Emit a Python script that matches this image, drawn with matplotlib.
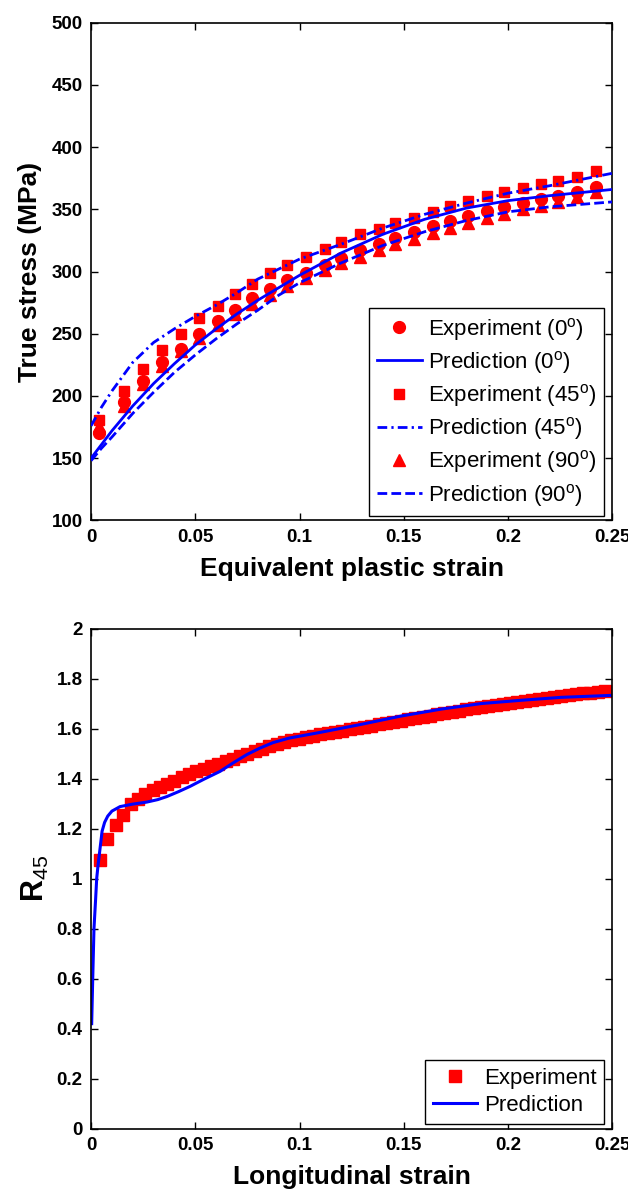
import matplotlib
matplotlib.use("Agg")
import matplotlib.pyplot as plt
from matplotlib.ticker import FuncFormatter

plt.rcParams['font.family'] = ['Liberation Sans', 'DejaVu Sans']
plt.rcParams['mathtext.fontset'] = 'custom'
plt.rcParams['mathtext.rm'] = 'Liberation Sans'
plt.rcParams['mathtext.bf'] = 'Liberation Sans:bold'

RED = '#ff0000'
BLUE = '#0000ff'

# ---- top chart: true stress vs equivalent plastic strain ----
exp_strain = [0.004, 0.016, 0.025, 0.034, 0.043, 0.052, 0.061, 0.069, 0.077, 0.086,
              0.094, 0.103, 0.112, 0.120, 0.129, 0.138, 0.146, 0.155, 0.164, 0.172,
              0.181, 0.190, 0.198, 0.207, 0.216, 0.224, 0.233, 0.242]
exp_0 = [170, 195, 212, 227, 238, 250, 260, 269, 279, 286, 293, 299, 305, 311, 317,
         322, 327, 332, 337, 341, 345, 349, 352, 355, 358, 361, 364, 368]
exp_45 = [181, 204, 222, 237, 250, 263, 272, 282, 290, 299, 305, 312, 318, 324, 330,
          334, 339, 343, 348, 353, 357, 361, 364, 367, 370, 373, 376, 381]
exp_90 = [176, 192, 210, 224, 236, 247, 257, 266, 274, 281, 288, 295, 301, 307, 312,
          317, 322, 326, 331, 335, 339, 343, 346, 350, 353, 356, 360, 364]

pred_strain = [0, 0.005, 0.01, 0.02, 0.03, 0.04, 0.05, 0.06, 0.07, 0.08, 0.09, 0.1,
               0.12, 0.14, 0.16, 0.18, 0.2, 0.22, 0.25]
pred_0 = [150, 161, 172, 192, 210, 226, 241, 254, 266, 277, 287, 297, 315, 330, 342,
          351, 357, 361, 366]
pred_45 = [176, 191, 204, 227, 243, 254, 264, 273, 283, 294, 302, 310, 322, 335, 346,
           355, 363, 369, 379]
pred_90 = [148, 158, 167, 186, 203, 219, 233, 246, 258, 269, 281, 291, 307, 321, 332,
           341, 348, 352, 356]

# ---- bottom chart: R45 vs longitudinal strain ----
r_exp_strain = [0.0043, 0.0078, 0.0118, 0.0155, 0.0190, 0.0225, 0.0260, 0.0295, 0.0330,
                0.0365, 0.0400, 0.0435, 0.0470, 0.0505, 0.0540, 0.0575, 0.0610, 0.0645,
                0.0680, 0.0715, 0.0750, 0.0785, 0.0820, 0.0855, 0.0890, 0.0925, 0.0960,
                0.0995, 0.1030, 0.1065, 0.1100, 0.1135, 0.1170, 0.1205, 0.1240, 0.1275,
                0.1310, 0.1345, 0.1380, 0.1415, 0.1450, 0.1485, 0.1520, 0.1555, 0.1590,
                0.1625, 0.1660, 0.1695, 0.1730, 0.1765, 0.1800, 0.1835, 0.1870, 0.1905,
                0.1940, 0.1975, 0.2010, 0.2045, 0.2080, 0.2115, 0.2150, 0.2185, 0.2220,
                0.2255, 0.2290, 0.2325, 0.2360, 0.2395, 0.2430, 0.2465]
r_exp = [1.075, 1.160, 1.215, 1.255, 1.300, 1.320, 1.340, 1.355, 1.368, 1.380, 1.392,
         1.405, 1.418, 1.430, 1.440, 1.450, 1.460, 1.470, 1.480, 1.490, 1.500, 1.510,
         1.520, 1.530, 1.538, 1.546, 1.553, 1.560, 1.566, 1.572, 1.577, 1.582, 1.587,
         1.592, 1.597, 1.602, 1.607, 1.612, 1.617, 1.622, 1.627, 1.632, 1.637, 1.642,
         1.647, 1.652, 1.657, 1.662, 1.667, 1.672, 1.677, 1.681, 1.685, 1.689, 1.693,
         1.697, 1.701, 1.705, 1.709, 1.713, 1.717, 1.721, 1.725, 1.729, 1.733, 1.737,
         1.741, 1.744, 1.748, 1.751]

r_pred_strain = [0.0003, 0.0008, 0.0014, 0.0022, 0.0027, 0.0033, 0.0043, 0.0053, 0.0065,
                 0.0080, 0.0100, 0.0139, 0.0200, 0.0267, 0.0320, 0.0363, 0.0420, 0.0475,
                 0.0540, 0.0619, 0.0680, 0.0747, 0.0810, 0.0873, 0.0950, 0.1100, 0.1290,
                 0.1486, 0.1680, 0.1870, 0.2060, 0.2255, 0.2500]
r_pred = [0.42, 0.60, 0.80, 0.92, 1.00, 1.05, 1.12, 1.19, 1.225, 1.25, 1.27, 1.288,
          1.298, 1.306, 1.316, 1.328, 1.348, 1.369, 1.397, 1.429, 1.462, 1.496, 1.522,
          1.544, 1.562, 1.585, 1.616, 1.650, 1.678, 1.700, 1.713, 1.725, 1.733]

fig = plt.figure(figsize=(6.28, 11.95), dpi=100)
ax1 = fig.add_axes([0.145, 0.5645, 0.83, 0.4165])
ax2 = fig.add_axes([0.145, 0.0555, 0.83, 0.4185])

fmt = FuncFormatter(lambda v, p: '%g' % round(v, 4))


def style(ax):
    for s in ax.spines.values():
        s.set_linewidth(1.2)
    ax.tick_params(direction='in', top=True, right=True, length=5, width=1,
                   pad=6, labelsize=13.5)
    for lab in ax.get_xticklabels() + ax.get_yticklabels():
        lab.set_fontweight('bold')
    ax.xaxis.set_major_formatter(fmt)
    ax.yaxis.set_major_formatter(fmt)


def legend(ax, y0):
    leg = ax.legend(loc='lower right', bbox_to_anchor=(0.985, y0), borderaxespad=0,
                    fontsize=16, frameon=True, fancybox=False, edgecolor='black',
                    framealpha=1, handlelength=2.0, handletextpad=0.3,
                    labelspacing=0.28, borderpad=0.35)
    leg.get_frame().set_linewidth(1.0)
    return leg


ms = 8.5
ax1.plot(exp_strain, exp_0, 'o', color=RED, ms=ms, label=r'Experiment (0$^\mathrm{o}$)')
ax1.plot(pred_strain, pred_0, '-', color=BLUE, lw=2, label=r'Prediction (0$^\mathrm{o}$)', zorder=4)
ax1.plot(exp_strain, exp_45, 's', color=RED, ms=7.5, label=r'Experiment (45$^\mathrm{o}$)')
ax1.plot(pred_strain, pred_45, color=BLUE, lw=2, linestyle=(0, (3.5, 1.5, 0.8, 1.5)),
         label=r'Prediction (45$^\mathrm{o}$)', zorder=4)
ax1.plot(exp_strain, exp_90, '^', color=RED, ms=ms, label=r'Experiment (90$^\mathrm{o}$)')
ax1.plot(pred_strain, pred_90, color=BLUE, lw=2, linestyle=(0, (3.5, 1.5)),
         label=r'Prediction (90$^\mathrm{o}$)', zorder=4)

ax1.set_xlim(0, 0.25)
ax1.set_ylim(100, 500)
ax1.set_xticks([0, 0.05, 0.1, 0.15, 0.2, 0.25])
ax1.set_yticks(range(100, 501, 50))
style(ax1)
ax1.set_xlabel('Equivalent plastic strain', fontsize=19, fontweight='bold', labelpad=8)
ax1.set_ylabel('True stress (MPa)', fontsize=19, fontweight='bold', labelpad=7)
legend(ax1, 0.008)

ax2.plot(r_exp_strain, r_exp, 's', color=RED, ms=8, label='Experiment')
ax2.plot(r_pred_strain, r_pred, '-', color=BLUE, lw=2.2, label='Prediction')
ax2.set_xlim(0, 0.25)
ax2.set_ylim(0, 2)
ax2.set_xticks([0, 0.05, 0.1, 0.15, 0.2, 0.25])
ax2.set_yticks([0, 0.2, 0.4, 0.6, 0.8, 1.0, 1.2, 1.4, 1.6, 1.8, 2.0])
style(ax2)
ax2.set_xlabel('Longitudinal strain', fontsize=19, fontweight='bold', labelpad=8)
ax2.set_ylabel(r'$\mathbf{R}_{45}$', fontsize=22, labelpad=4)
legend(ax2, 0.01)

fig.savefig('out.png', dpi=100)
